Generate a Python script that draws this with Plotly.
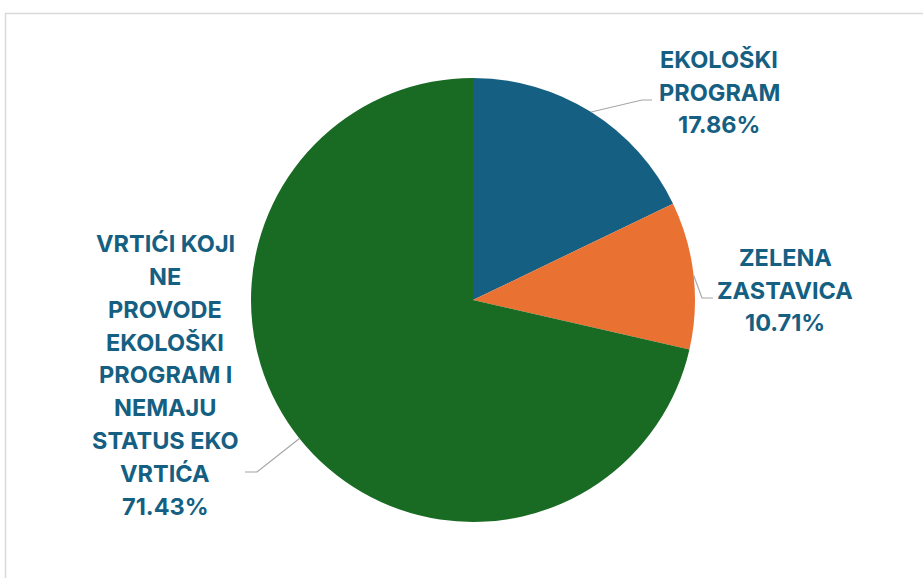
import math
import plotly.graph_objects as go

# ---- data ----
categories = ["EKOLOŠKI PROGRAM", "ZELENA ZASTAVICA",
              "VRTIĆI KOJI NE PROVODE EKOLOŠKI PROGRAM I NEMAJU STATUS EKO VRTIĆA"]
label_lines = [["EKOLOŠKI", "PROGRAM"],
               ["ZELENA", "ZASTAVICA"],
               ["VRTIĆI KOJI", "NE", "PROVODE", "EKOLOŠKI", "PROGRAM I", "NEMAJU", "STATUS EKO", "VRTIĆA"]]
values = [17.86, 10.71, 71.43]
colors = ["#156082", "#E97132", "#196B24"]

# ---- layout constants (window pixels) ----
W, H = 923, 578
CX, CY, R = 473, 300, 222
TEXT_COLOR = "#156082"
FONT = "Inter"
FS = 23.5
LINE_H = 32.8
label_centres = [(719, 92), (785, 290), (165, 375)]
leader_ends = [(652, 100), (713, 298), (245, 472)]
elbow_dx = [-10, -11, 12]


def px(x):
    return x / W


def py(y):
    return 1 - y / H


fig = go.Figure()
fig.add_trace(go.Pie(
    labels=categories, values=values, sort=False, direction="clockwise",
    rotation=0, marker=dict(colors=colors, line=dict(width=0)),
    textinfo="none", hoverinfo="label+percent", showlegend=False,
    domain=dict(x=[px(CX - R), px(CX + R)], y=[py(CY + R), py(CY - R)]),
))

annotations = []
shapes = []
total = sum(values)
cum = 0.0
for i, v in enumerate(values):
    mid = (cum + v / 2) / total * 2 * math.pi
    cum += v
    ex = CX + R * math.sin(mid)
    ey = CY - R * math.cos(mid)
    lx, ly = leader_ends[i]
    elx = lx + elbow_dx[i]
    path = f"M {px(ex)} {py(ey)} L {px(elx)} {py(ly)} L {px(lx)} {py(ly)}"
    shapes.append(dict(type="path", xref="paper", yref="paper", path=path,
                       line=dict(color="#A6A6A6", width=1.2)))
    lines = label_lines[i] + [f"{v:.2f}%"]
    cxl, cyl = label_centres[i]
    n = len(lines)
    for k, t in enumerate(lines):
        yk = cyl + (k - (n - 1) / 2) * LINE_H
        annotations.append(dict(x=px(cxl), y=py(yk), xref="paper", yref="paper",
                                text=f"<b>{t}</b>", showarrow=False,
                                xanchor="center", yanchor="middle",
                                font=dict(family=FONT, size=FS, color=TEXT_COLOR)))

# chart-area border
shapes.append(dict(type="rect", xref="paper", yref="paper",
                   x0=px(5.5), x1=px(W + 5), y0=py(H + 5), y1=py(13.5),
                   line=dict(color="#D9D9D9", width=1.5), fillcolor="rgba(0,0,0,0)",
                   layer="below"))

fig.update_layout(width=W, height=H, margin=dict(l=0, r=0, t=0, b=0),
                  paper_bgcolor="white", plot_bgcolor="white",
                  annotations=annotations, shapes=shapes)
fig.write_html("out.html", config={"displayModeBar": False},
               post_script="document.body.style.margin='0';document.body.style.overflow='hidden';")
